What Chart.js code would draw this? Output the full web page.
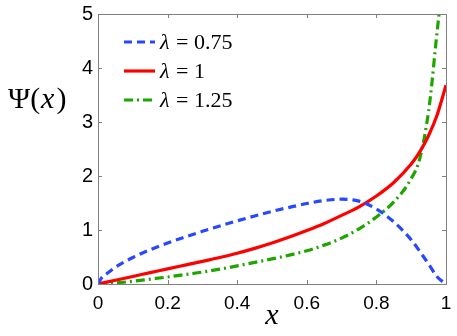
<!DOCTYPE html>
<html>
<head>
<meta charset="utf-8">
<script src="https://cdn.jsdelivr.net/npm/chart.js@4/dist/chart.umd.min.js"></script>
<style>
html,body{margin:0;padding:0;background:#fff;}
#wrap{width:457px;height:336px;position:relative;}
</style>
</head>
<body>
<div id="wrap"><canvas id="c" width="457" height="336"></canvas></div>
<script>
// x positions sampled along the curves
const xBlue = [0, 0.01, 0.025, 0.05, 0.1, 0.15, 0.2, 0.25, 0.3, 0.35, 0.4, 0.45, 0.5, 0.55, 0.6, 0.65, 0.7, 0.75, 0.8, 0.85, 0.9, 0.925, 0.95, 0.975, 1];
const yBlue = [0, 0.11, 0.19, 0.31, 0.49, 0.635, 0.76, 0.87, 0.975, 1.075, 1.17, 1.26, 1.345, 1.42, 1.49, 1.545, 1.57, 1.535, 1.39, 1.15, 0.82, 0.60, 0.37, 0.13, 0];
const xRed = [0, 0.05, 0.1, 0.15, 0.2, 0.25, 0.3, 0.35, 0.4, 0.45, 0.5, 0.55, 0.6, 0.65, 0.7, 0.75, 0.8, 0.85, 0.9, 0.925, 0.95, 0.975, 1];
const yRed = [0, 0.07, 0.14, 0.21, 0.28, 0.35, 0.42, 0.49, 0.57, 0.66, 0.76, 0.87, 0.99, 1.12, 1.27, 1.43, 1.63, 1.88, 2.22, 2.45, 2.75, 3.14, 3.68];
const xGreen = [0, 0.05, 0.1, 0.15, 0.2, 0.25, 0.3, 0.35, 0.4, 0.45, 0.5, 0.55, 0.6, 0.65, 0.7, 0.75, 0.8, 0.85, 0.9, 0.925, 0.95, 0.96, 0.97, 0.98];
const yGreen = [0, 0.02, 0.05, 0.09, 0.13, 0.175, 0.22, 0.275, 0.335, 0.40, 0.465, 0.535, 0.615, 0.72, 0.85, 1.02, 1.24, 1.52, 1.95, 2.33, 3.2, 3.75, 4.4, 5.0];
const seriesLabels = ['0.75', '1', '1.25'];
const xTicks = [0, 0.2, 0.4, 0.6, 0.8, 1];
const yTicks = [0, 1, 2, 3, 4, 5];

const colors = ['rgb(40,72,255)', 'rgb(255,0,0)', 'rgb(30,165,0)'];
const dashes = [[8,5], [], [9,4,2,4]];

function pts(xs, ys){ return xs.map((x,i)=>({x:x, y:ys[i]})); }

const frame = {
  id: 'frame',
  afterDraw(chart){
    const ctx = chart.ctx, a = chart.chartArea;
    const xs = chart.scales.x, ys = chart.scales.y;
    ctx.save();
    ctx.strokeStyle = '#808080';
    ctx.lineWidth = 1;
    ctx.strokeRect(Math.round(a.left)+0.5, Math.round(a.top)+0.5, Math.round(a.right-a.left), Math.round(a.bottom-a.top));
    const tl = 4;
    ctx.beginPath();
    xTicks.forEach(v=>{
      const px = Math.round(xs.getPixelForValue(v))+0.5;
      ctx.moveTo(px, a.bottom); ctx.lineTo(px, a.bottom-tl);
      ctx.moveTo(px, a.top); ctx.lineTo(px, a.top+tl);
    });
    yTicks.forEach(v=>{
      const py = Math.round(ys.getPixelForValue(v))+0.5;
      ctx.moveTo(a.left, py); ctx.lineTo(a.left+tl, py);
      ctx.moveTo(a.right, py); ctx.lineTo(a.right-tl, py);
    });
    ctx.stroke();

    // axis titles
    ctx.fillStyle = '#000';
    ctx.textBaseline = 'alphabetic';
    ctx.font = '30px "Liberation Serif"';
    let x0 = 8, yb = 108;
    ctx.fillText('Ψ(', x0, yb);
    let w = ctx.measureText('Ψ(').width;
    ctx.font = 'italic 30px "Liberation Serif"';
    ctx.fillText('x', x0+w+1, yb);
    let w2 = ctx.measureText('x').width;
    ctx.font = '30px "Liberation Serif"';
    ctx.fillText(')', x0+w+w2+3, yb);

    ctx.font = 'italic 30px "Liberation Serif"';
    ctx.textAlign = 'center';
    ctx.fillText('x', (a.left+a.right)/2, 324);
    ctx.textAlign = 'left';

    // legend
    const ly = [42, 71, 100];
    chart.data.datasets.forEach((ds,i)=>{
      ctx.strokeStyle = colors[i];
      ctx.lineWidth = 3.2;
      ctx.setLineDash(dashes[i]);
      ctx.beginPath();
      ctx.moveTo(124, ly[i]); ctx.lineTo(155, ly[i]);
      ctx.stroke();
      ctx.setLineDash([]);
      ctx.fillStyle = '#000';
      ctx.font = 'italic 22px "Liberation Serif"';
      ctx.fillText('λ', 160, ly[i]+7);
      const lw = ctx.measureText('λ').width;
      ctx.font = '22px "Liberation Serif"';
      ctx.fillText(' = ' + seriesLabels[i], 160+lw+1, ly[i]+7);
    });
    ctx.restore();
  }
};

new Chart(document.getElementById('c'), {
  type: 'scatter',
  data: {
    datasets: [
      {label:'λ = ' + seriesLabels[0], data: pts(xBlue, yBlue)},
      {label:'λ = ' + seriesLabels[1], data: pts(xRed, yRed)},
      {label:'λ = ' + seriesLabels[2], data: pts(xGreen, yGreen)}
    ].map((d,i)=>Object.assign(d, {
      showLine: true, borderColor: colors[i], backgroundColor: colors[i],
      borderWidth: 3.2, borderDash: dashes[i], pointRadius: 0,
      cubicInterpolationMode: 'monotone', fill: false
    }))
  },
  options: {
    responsive: false, animation: false,
    layout: {padding: {top: 14, right: 11, left: 0, bottom: 0}},
    plugins: {legend: {display: false}, tooltip: {enabled: false}},
    scales: {
      x: {
        type: 'linear', min: 0, max: 1,
        grid: {display: false, drawTicks: false}, border: {display: false},
        ticks: {stepSize: 0.2, color: '#000', padding: 8, maxRotation: 0,
          callback: v => String(Math.round(v*10)/10),
          font: {family: '"Liberation Sans", Arial', size: 19}},
        afterFit(s){ s.height = 52; s.paddingRight = 0; s.paddingLeft = 0; }
      },
      y: {
        type: 'linear', min: 0, max: 5,
        grid: {display: false, drawTicks: false}, border: {display: false},
        ticks: {stepSize: 1, color: '#000', padding: 5,
          font: {family: '"Liberation Sans", Arial', size: 20}},
        afterFit(s){ s.width = 98; s.paddingTop = 0; s.paddingBottom = 0; }
      }
    }
  },
  plugins: [frame]
});
</script>
</body>
</html>
